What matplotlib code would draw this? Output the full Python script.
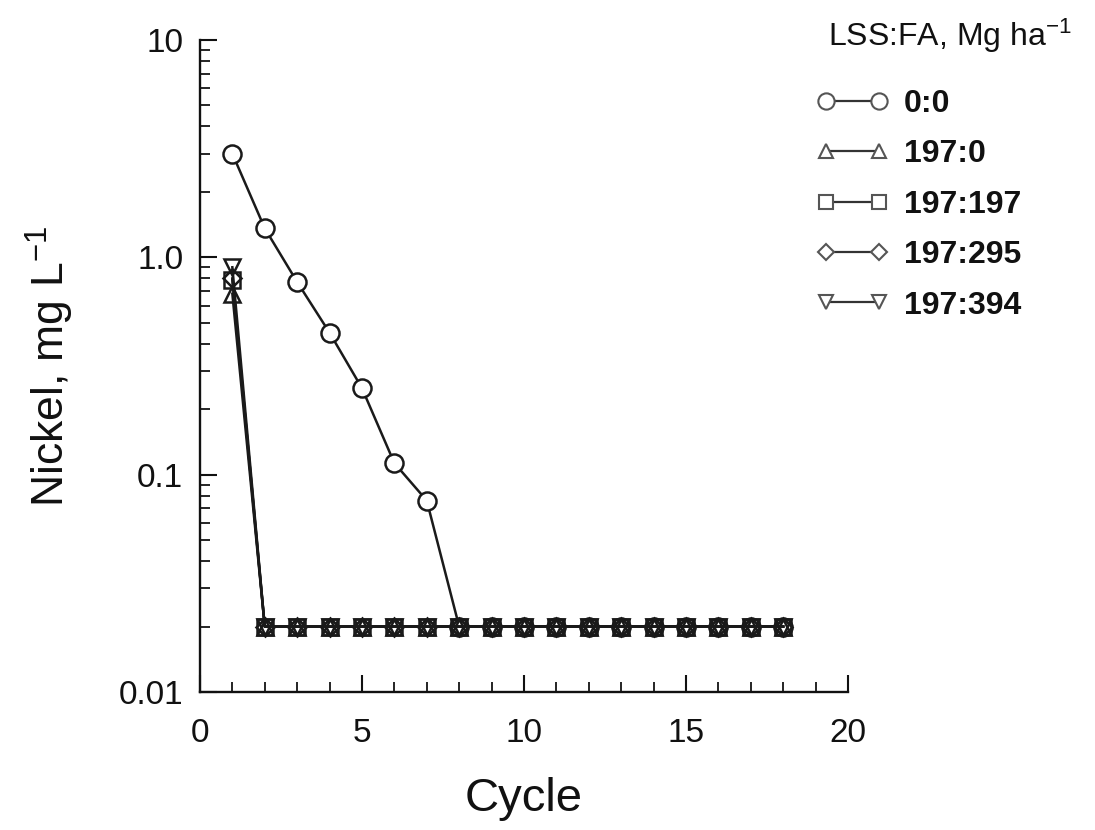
import matplotlib
matplotlib.use("Agg")
import matplotlib.pyplot as plt
from matplotlib.lines import Line2D
from matplotlib.ticker import FixedLocator, FixedFormatter, MultipleLocator, LogLocator, NullFormatter

plt.rcParams["font.family"] = ["Liberation Sans", "DejaVu Sans"]
plt.rcParams["mathtext.default"] = "regular"

# Nickel in leachate per cycle, by LSS:FA rate (Mg/ha)
cycle = list(range(1, 19))
ni_0_0 = [3.0, 1.36, 0.77, 0.45, 0.25, 0.113, 0.076] + [0.02] * 11
ni_197_0 = [0.68] + [0.02] * 17
ni_197_197 = [0.79] + [0.02] * 17
ni_197_295 = [0.80] + [0.02] * 17
ni_197_394 = [0.90] + [0.02] * 17

labels = ["0:0", "197:0", "197:197", "197:295", "197:394"]
series = [ni_0_0, ni_197_0, ni_197_197, ni_197_295, ni_197_394]
markers = ["o", "^", "s", "D", "v"]
msizes = [13, 11, 11, 9, 11]

fig = plt.figure(figsize=(10.95, 8.3), dpi=100)
ax = fig.add_axes([0.1826, 0.1663, 0.5918, 0.7855])

for i, (y, m, ms) in enumerate(zip(series, markers, msizes)):
    # the 0:0 circles are opaque so the connecting line stops at their edge
    face = "white" if i == 0 else "none"
    ax.plot(cycle, y, color="#1a1a1a", linewidth=1.8, marker=m, markersize=ms,
            markerfacecolor=face, markeredgecolor="#1a1a1a", markeredgewidth=1.8)

ax.set_yscale("log")
ax.set_xlim(0, 20)
ax.set_ylim(0.01, 10)

ax.xaxis.set_major_locator(MultipleLocator(5))
ax.xaxis.set_minor_locator(MultipleLocator(1))
ax.yaxis.set_major_locator(FixedLocator([0.01, 0.1, 1, 10]))
ax.yaxis.set_major_formatter(FixedFormatter(["0.01", "0.1", "1.0", "10"]))
ax.yaxis.set_minor_locator(LogLocator(base=10, subs=range(2, 10)))
ax.yaxis.set_minor_formatter(NullFormatter())

ax.tick_params(which="major", direction="in", length=12, width=1.5,
               labelsize=24, colors="#111111")
ax.tick_params(which="minor", direction="in", length=7, width=1.2)
ax.tick_params(axis="y", pad=12)
ax.tick_params(axis="x", pad=19)

for side in ("top", "right"):
    ax.spines[side].set_visible(False)
for side in ("left", "bottom"):
    ax.spines[side].set_linewidth(1.7)
    ax.spines[side].set_color("#111111")

ax.set_xlabel("Cycle", fontsize=34, labelpad=20, color="#111111")
ax.set_ylabel("Nickel, mg L$^{-1}$", fontsize=32, labelpad=31, color="#111111")

# legend: title as its own text, entries below it
fig.text(828 / 1095, 1 - 36 / 830, "LSS:FA, Mg ha$^{-1}$", fontsize=23,
         ha="left", va="center", color="#111111")
handles = [Line2D([0], [0], color="#333333", linewidth=1.6, marker=m,
                  markersize=ms * 0.9, markerfacecolor="white",
                  markeredgecolor="#555555", markeredgewidth=1.5)
           for m, ms in zip(markers, msizes)]
leg = ax.legend(handles, labels, loc="upper left",
                bbox_to_anchor=(0.728, 0.916), bbox_transform=fig.transFigure,
                frameon=False, prop={"size": 23, "weight": "bold"},
                numpoints=2, handlelength=2.25, handletextpad=0.5,
                labelspacing=0.64, borderaxespad=0.2)
for t in leg.get_texts():
    t.set_color("#111111")

fig.savefig("out.png", dpi=100)
plt.close()
